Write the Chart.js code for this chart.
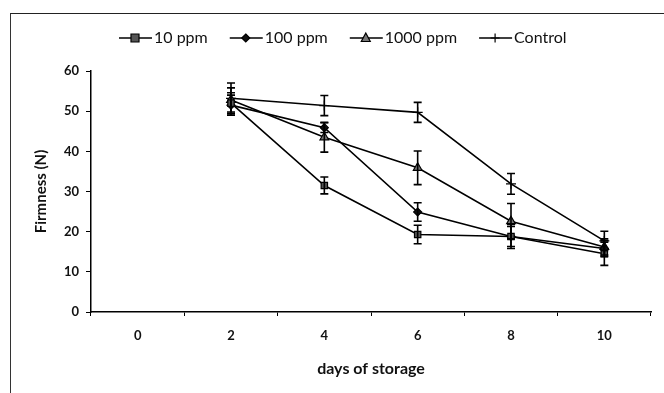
<!DOCTYPE html>
<html>
<head>
<meta charset="utf-8">
<script src="https://cdn.jsdelivr.net/npm/chart.js@4.4.1/dist/chart.umd.min.js"></script>
<style>
  html, body { margin: 0; padding: 0; background: #fff; }
  #wrap { position: relative; width: 664px; height: 393px; overflow: hidden; }
  #frame { position: absolute; left: 10px; top: 13px; width: 700px; height: 400px;
           border-top: 1.5px solid #222; border-left: 1.5px solid #333; }
  canvas { position: absolute; left: 0; top: 0; }
</style>
</head>
<body>
<div id="wrap">
  <div id="frame"></div>
  <canvas id="c" width="664" height="393"></canvas>
</div>
<script>
// ---- data ----
const days = ['0', '2', '4', '6', '8', '10'];
const seriesNames = ['10 ppm', '100 ppm', '1000 ppm', 'Control'];
const ppm10 = [null, 52.0, 31.5, 19.3, 18.8, 14.5];
const ppm100 = [null, 51.5, 45.9, 24.9, 18.8, 15.8];
const ppm1000 = [null, 52.8, 43.5, 35.9, 22.6, 16.2];
const control = [null, 53.2, 51.4, 49.7, 31.9, 17.7];
const ppm10Err = [null, 2.6, 2.1, 2.3, 3.0, 2.9];
const ppm100Err = [null, 2.5, 1.2, 2.3, 2.5, 2.0];
const ppm1000Err = [null, 3.0, 3.7, 4.2, 4.4, 2.0];
const controlErr = [null, 3.8, 2.5, 2.5, 2.6, 2.4];
const yTicks = [0, 10, 20, 30, 40, 50, 60];

const FONT = 'Lato, "Open Sans", "DejaVu Sans", sans-serif';

function drawMarker(ctx, style, x, y) {
  ctx.save();
  ctx.strokeStyle = '#000';
  ctx.lineWidth = 1.2;
  ctx.beginPath();
  if (style === 'rect') {
    ctx.fillStyle = '#555';
    ctx.rect(x - 4, y - 4, 8, 8);
    ctx.fill(); ctx.stroke();
  } else if (style === 'rectRot') {
    ctx.fillStyle = '#111';
    ctx.moveTo(x, y - 4); ctx.lineTo(x + 4, y); ctx.lineTo(x, y + 4); ctx.lineTo(x - 4, y); ctx.closePath();
    ctx.fill(); ctx.stroke();
  } else if (style === 'triangle') {
    ctx.fillStyle = '#777';
    ctx.moveTo(x, y - 5); ctx.lineTo(x + 4.5, y + 3.5); ctx.lineTo(x - 4.5, y + 3.5); ctx.closePath();
    ctx.fill(); ctx.stroke();
  } else {
    ctx.moveTo(x, y - 4.5); ctx.lineTo(x, y + 4.5);
    ctx.moveTo(x - 4.5, y); ctx.lineTo(x + 4.5, y);
    ctx.stroke();
  }
  ctx.restore();
}

const errorBars = {
  id: 'errorBars',
  afterDatasetsDraw(chart) {
    const ctx = chart.ctx;
    const ys = chart.scales.y;
    ctx.save();
    ctx.strokeStyle = '#000';
    ctx.lineWidth = 1.6;
    chart.data.datasets.forEach((ds, di) => {
      const meta = chart.getDatasetMeta(di);
      meta.data.forEach((pt, i) => {
        const v = ds.data[i], e = ds.errors[i];
        if (v == null || e == null) return;
        const x = pt.x;
        const y1 = ys.getPixelForValue(v + e);
        const y2 = ys.getPixelForValue(v - e);
        ctx.beginPath();
        ctx.moveTo(x, y1); ctx.lineTo(x, y2);
        ctx.moveTo(x - 4, y1); ctx.lineTo(x + 4, y1);
        ctx.moveTo(x - 4, y2); ctx.lineTo(x + 4, y2);
        ctx.stroke();
      });
    });
    ctx.restore();
  }
};

const customLegend = {
  id: 'customLegend',
  afterDraw(chart) {
    const ctx = chart.ctx;
    ctx.save();
    ctx.font = '16px ' + FONT;
    ctx.fillStyle = '#111';
    ctx.textBaseline = 'middle';
    let x = 119;
    const y = 38;
    chart.data.datasets.forEach((ds) => {
      ctx.strokeStyle = '#000';
      ctx.lineWidth = 1.6;
      ctx.beginPath();
      ctx.moveTo(x, y); ctx.lineTo(x + 33, y);
      ctx.stroke();
      drawMarker(ctx, ds.pointStyle, x + 16, y);
      ctx.fillText(ds.label, x + 35, y);
      x += 35 + ctx.measureText(ds.label).width + 22;
    });
    ctx.restore();
  }
};

const styles = ['rect', 'rectRot', 'triangle', 'cross'];
const values = [ppm10, ppm100, ppm1000, control];
const errs = [ppm10Err, ppm100Err, ppm1000Err, controlErr];
const fills = ['#555', '#111', '#777', '#000'];
const radii = [4.5, 4, 5, 5];

new Chart(document.getElementById('c'), {
  type: 'line',
  data: {
    labels: days,
    datasets: seriesNames.map((name, i) => ({
      label: name,
      data: values[i],
      errors: errs[i],
      borderColor: '#000',
      borderWidth: 1.6,
      pointStyle: styles[i],
      pointRadius: radii[i],
      pointBackgroundColor: fills[i],
      pointBorderColor: '#000',
      pointBorderWidth: 1.2,
      fill: false,
      tension: 0,
      spanGaps: false
    }))
  },
  options: {
    responsive: false,
    animation: false,
    events: [],
    layout: { padding: { top: 71, right: 13, left: 0, bottom: 0 } },
    plugins: { legend: { display: false }, tooltip: { enabled: false } },
    scales: {
      x: {
        type: 'category',
        offset: true,
        grid: { offset: true, drawOnChartArea: false, drawTicks: true, tickLength: 4, color: '#000', lineWidth: 1 },
        border: { display: true, color: '#000', width: 1.5 },
        ticks: { color: '#111', font: { family: FONT, size: 13, weight: 'bold' }, padding: 12, maxRotation: 0 },
        title: { display: true, text: 'days of storage', color: '#111',
                 font: { family: FONT, size: 16, weight: 'bold' }, padding: { top: 0, bottom: 15 } },
        afterFit(s) { s.height = 81; }
      },
      y: {
        min: 0, max: 60,
        afterBuildTicks(s) { s.ticks = yTicks.map(v => ({ value: v })); },
        grid: { drawOnChartArea: false, drawTicks: true, tickLength: 5, color: '#000', lineWidth: 1 },
        border: { display: true, color: '#000', width: 1.5 },
        ticks: { color: '#111', font: { family: FONT, size: 13, weight: 'bold' }, padding: 7 },
        title: { display: true, text: 'Firmness (N)', color: '#111',
                 font: { family: FONT, size: 15, weight: 'bold' }, padding: { top: 32, bottom: 0 } },
        afterFit(s) { s.width = 91; }
      }
    }
  },
  plugins: [errorBars, customLegend]
});
</script>
</body>
</html>
